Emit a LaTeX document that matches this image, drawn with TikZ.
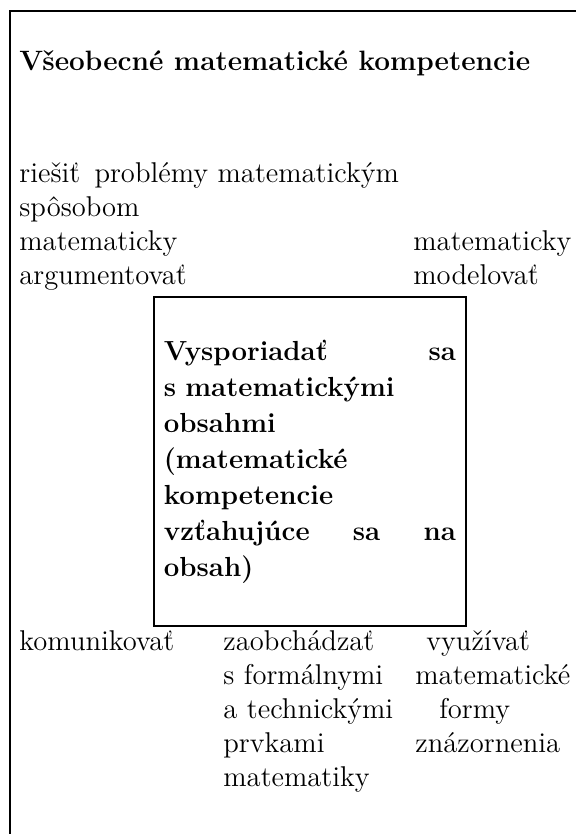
\documentclass[tikz,border=0pt]{standalone}
\usepackage{fontspec}
\tikzset{
  frameline/.style={line width=1pt},
  contentbox/.style={draw, line width=1pt, minimum width=156.2pt, minimum height=164.5pt, inner sep=0pt},
  plaintext/.style={anchor=base west, inner sep=0pt, text width=250pt, align=left,
    font=\fontsize{14.3}{17}\selectfont},
  boldtext/.style={anchor=base west, inner sep=0pt, text width=146pt, align=left,
    font=\fontsize{13.8}{18}\selectfont\bfseries},
  titletext/.style={anchor=base west, inner sep=0pt, font=\fontsize{14}{16}\selectfont\bfseries}
}
\begin{document}
\begin{tikzpicture}[x=0.5pt, y=-0.5pt]
  \useasboundingbox (0,0) rectangle (576,834);
  % frame (top and left side only)
  \coordinate (frameright) at (576,11);
  \coordinate (framecorner) at (10,11);
  \coordinate (framebottom) at (10,834);
  \draw[frameline] (frameright) -- (framecorner) -- (framebottom);
  % title
  \node[titletext] (title) at (19,71) {Všeobecné matematické kompetencie};
  % upper competences
  \node[plaintext] (riesit) at (19,183) {riešiť\hspace{0.5em}problémy matematickým\\spôsobom};
  \node[plaintext] (argument) at (19,250) {matematicky\\argumentovať};
  \node[plaintext] (model) at (413,250) {matematicky\\modelovať};
  % content box
  \node[contentbox] (obsah) at (309.8,461.5) {};
  \node[boldtext] (obsahtext) at (163.5,360) {Vysporiadať\hfill sa\\
    s matematickými\\obsahmi\\(matematické\\kompetencie\\
    vzťahujúce\hfill sa\hfill na\\obsah)};
  % lower competences
  \node[plaintext] (komun) at (19,650) {komunikovať};
  \node[plaintext] (zaobch) at (223,650) {zaobchádzať\\s formálnymi\\a technickými\\prvkami\\matematiky};
  \node[plaintext] (vyuzit) at (415,650) {\hspace*{5.5pt}využívať\\matematické\\\hspace*{12pt}formy\\znázornenia};
\end{tikzpicture}
\end{document}
